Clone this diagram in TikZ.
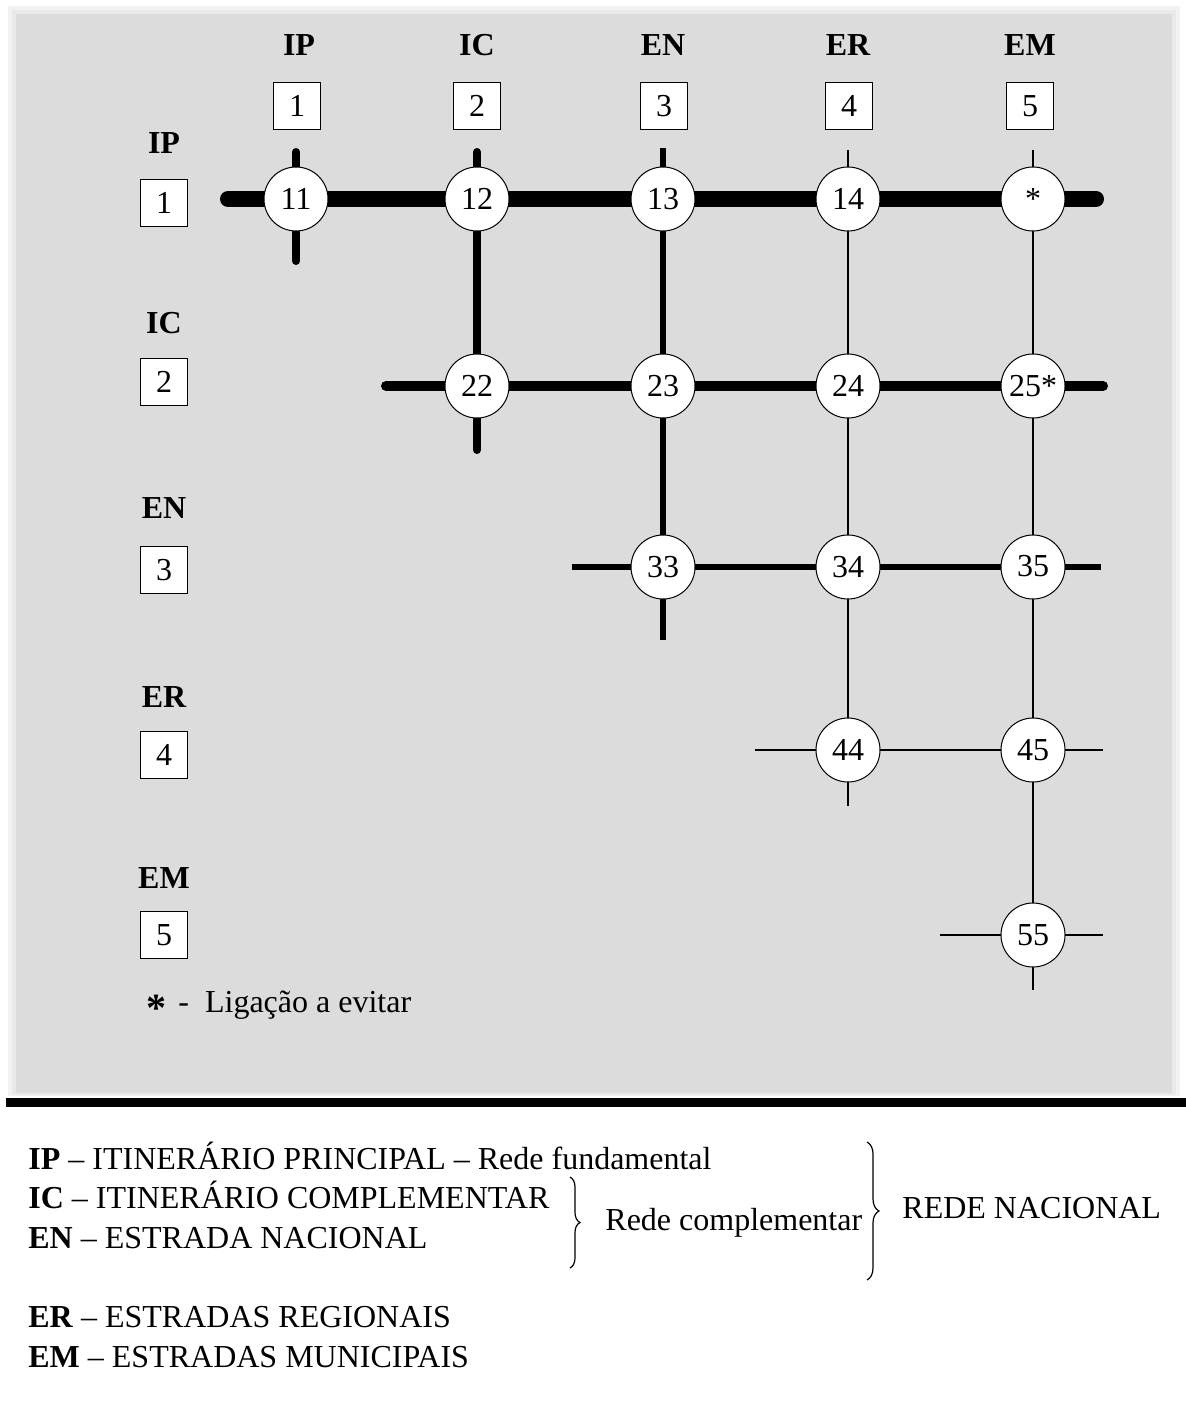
\documentclass[tikz,border=0pt]{standalone}
\usepackage{fontspec}
\setmainfont{Liberation Serif}
\usetikzlibrary{decorations.pathreplacing}
\definecolor{panelgray}{RGB}{220,220,220}
\definecolor{shadeA}{RGB}{242,242,242}
\definecolor{shadeB}{RGB}{233,233,233}
\pgfdeclarelayer{bg}
\pgfdeclarelayer{lines}
\pgfsetlayers{bg,lines,main}
\tikzset{
  hdr/.style={font=\bfseries\fontsize{16}{18}\selectfont, inner sep=0pt},
  numbox/.style={draw, fill=white, line width=0.6pt, minimum width=23.5pt, minimum height=23.5pt, inner sep=0pt, font=\fontsize{16}{18}\selectfont},
  junc/.style={circle, draw, fill=white, line width=0.5pt, minimum size=32pt, inner sep=0pt, font=\fontsize{16}{18}\selectfont},
  lipx/.style={line width=8pt, line cap=round},
  licv/.style={line width=4pt, line cap=round},
  licr/.style={line width=5pt, line cap=round},
  lenv/.style={line width=3pt},
  lthin/.style={line width=0.75pt},
  legend/.style={anchor=base west, inner sep=0pt, font=\fontsize{16}{18}\selectfont},
  brc/.style={decorate, line width=0.6pt}
}
\begin{document}
\begin{tikzpicture}[x=0.5pt,y=-0.5pt]
\useasboundingbox (0,0) rectangle (1186,1402);
\begin{pgfonlayer}{bg}
  \fill[white] (0,0) rectangle (1186,1402);
  \fill[shadeA] (8,6) rectangle (1180,1096);
  \fill[shadeB] (12,10) rectangle (1176,1095);
  \fill[panelgray] (16,14) rectangle (1172,1093);
  \fill[black] (6,1098) rectangle (1186,1107);
\end{pgfonlayer}

% column headers
\foreach \t/\x/\n in {IP/299/1, IC/477/2, EN/663/3, ER/848/4, EM/1030/5}{
  \node[hdr] (ch\n) at (\x,45) {\t};
}
\foreach \x/\n in {297/1, 477/2, 664/3, 849/4, 1030/5}{
  \node[numbox] (cb\n) at (\x,106) {\n};
}
% row headers
\foreach \t/\y/\n in {IP/143/1, IC/323/2, EN/508/3, ER/697/4, EM/878/5}{
  \node[hdr] (rh\n) at (164,\y) {\t};
}
\foreach \y/\n in {203/1, 382/2, 570/3, 755/4, 935/5}{
  \node[numbox] (rb\n) at (164,\y) {\n};
}

% junction nodes
\node[junc] (n11) at (296,199) {11};
\node[junc] (n12) at (477,199) {12};
\node[junc] (n13) at (663,199) {13};
\node[junc] (n14) at (848,199) {14};
\node[junc] (n15) at (1033,199) {\raisebox{-0.35em}{*}};
\node[junc] (n22) at (477,386) {22};
\node[junc] (n23) at (663,386) {23};
\node[junc] (n24) at (848,386) {\raisebox{-2pt}{24}};
\node[junc] (n25) at (1033,386) {25*};
\node[junc] (n33) at (663,567) {33};
\node[junc] (n34) at (848,567) {34};
\node[junc] (n35) at (1033,567) {\raisebox{1pt}{35}};
\node[junc] (n44) at (848,750) {44};
\node[junc] (n45) at (1033,750) {45};
\node[junc] (n55) at (1033,935) {55};

% free line ends
\coordinate (r1s) at (228,199);  \coordinate (r1e) at (1096,199);
\coordinate (r2s) at (386,386);  \coordinate (r2e) at (1103,386);
\coordinate (r3s) at (572,567);  \coordinate (r3e) at (1101,567);
\coordinate (r4s) at (755,750);  \coordinate (r4e) at (1103,750);
\coordinate (r5s) at (940,935);  \coordinate (r5e) at (1103,935);
\coordinate (c1s) at (296,152);  \coordinate (c1e) at (296,261);
\coordinate (c2s) at (477,152);  \coordinate (c2e) at (477,450);
\coordinate (c3s) at (663,148);  \coordinate (c3e) at (663,640);
\coordinate (c4s) at (848,150);  \coordinate (c4e) at (848,806);
\coordinate (c5s) at (1033,150); \coordinate (c5e) at (1033,990);

\begin{pgfonlayer}{lines}
  % columns
  \draw[licv] (c1s) -- (n11.center) -- (c1e);
  \draw[licv] (c2s) -- (n12.center) -- (n22.center) -- (c2e);
  \draw[lenv] (c3s) -- (n13.center) -- (n23.center) -- (n33.center) -- (c3e);
  \draw[lthin] (c4s) -- (n14.center) -- (n24.center) -- (n34.center) -- (n44.center) -- (c4e);
  \draw[lthin] (c5s) -- (n15.center) -- (n25.center) -- (n35.center) -- (n45.center) -- (n55.center) -- (c5e);
  % rows
  \draw[lipx] (r1s) -- (n11.center) -- (n12.center) -- (n13.center) -- (n14.center) -- (n15.center) -- (r1e);
  \draw[licr] (r2s) -- (n22.center) -- (n23.center) -- (n24.center) -- (n25.center) -- (r2e);
  \draw[lenv] (r3s) -- (n33.center) -- (n34.center) -- (n35.center) -- (r3e);
  \draw[lthin] (r4s) -- (n44.center) -- (n45.center) -- (r4e);
  \draw[lthin] (r5s) -- (n55.center) -- (r5e);
\end{pgfonlayer}

% asterisk legend
\node[legend] (ast) at (146,1012) {\raisebox{-0.3em}{\bfseries\fontsize{20}{20}\selectfont *}\hspace{6pt}-\hspace{8pt}Ligação a evitar};

% bottom legend
\node[legend] (l1) at (28,1169) {\textbf{IP} – ITINERÁRIO PRINCIPAL – Rede fundamental};
\node[legend] (l2) at (28,1208) {\textbf{IC} – ITINERÁRIO COMPLEMENTAR};
\node[legend] (l3) at (28,1248) {\textbf{EN} – ESTRADA NACIONAL};
\node[legend] (l4) at (28,1327) {\textbf{ER} – ESTRADAS REGIONAIS};
\node[legend] (l5) at (28,1367) {\textbf{EM} – ESTRADAS MUNICIPAIS};
\node[legend] (rc) at (605,1230) {Rede complementar};
\node[legend] (rn) at (902,1218) {REDE NACIONAL};

\coordinate (b1t) at (570,1177); \coordinate (b1b) at (570,1268);
\coordinate (b2t) at (867,1142); \coordinate (b2b) at (867,1280);
\draw[brc, decoration={brace, amplitude=5pt}] (b1t) -- (b1b);
\draw[brc, decoration={brace, amplitude=6pt}] (b2t) -- (b2b);
\end{tikzpicture}
\end{document}
